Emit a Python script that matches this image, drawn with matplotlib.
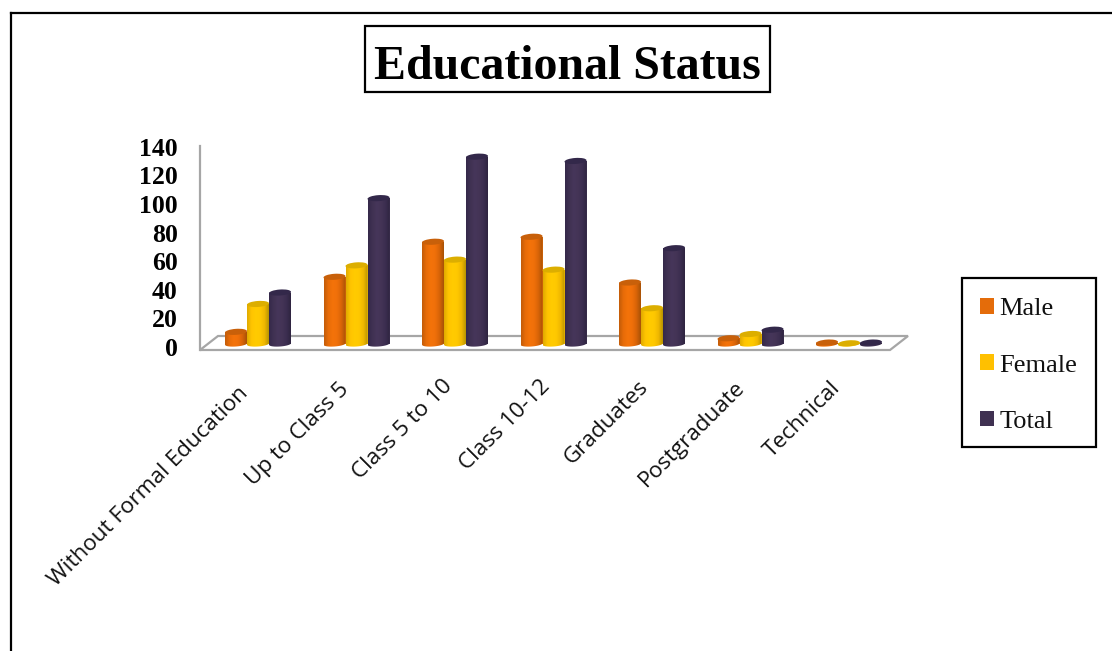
import numpy as np
import matplotlib
matplotlib.use("Agg")
import matplotlib.pyplot as plt
from matplotlib.patches import Ellipse, Patch, Polygon, Rectangle
from matplotlib.lines import Line2D
from matplotlib.transforms import ScaledTranslation
from matplotlib.colors import to_rgb

categories = ["Without Formal Education", "Up to Class 5", "Class 5 to 10",
              "Class 10-12", "Graduates", "Postgraduate", "Technical"]
male = [8.5, 47, 71.5, 75, 43, 4, 1]
female = [28, 55, 59, 52, 25, 7, 0.5]
total = [36, 102, 131, 128, 67, 10, 1]
y_ticks = [0, 20, 40, 60, 80, 100, 120, 140]
series_names = ["Male", "Female", "Total"]

W, H = 1112, 651
fig = plt.figure(figsize=(W / 100, H / 100), dpi=100, facecolor="white")
SERIF = "Liberation Serif"


def fx(p):
    return p / W


def fy(p):
    return 1 - p / H


# outer frame
fig.add_artist(Line2D([fx(11), fx(11)], [0, fy(13)], color="black", lw=1.6))
fig.add_artist(Line2D([fx(11), 1], [fy(13), fy(13)], color="black", lw=1.6))

# title
fig.add_artist(Rectangle((fx(365), fy(92)), fx(405), 66 / H, fc="white", ec="black", lw=1.6,
                         transform=fig.transFigure))
fig.text(fx(567.5), fy(67), "Educational Status", family=SERIF, weight="bold", fontsize=34.5,
         ha="center", va="center", color="black")

# axes: pixel geometry
left, right, top, bottom = 200, 890, 143, 350
ax = fig.add_axes([fx(left), fy(bottom), fx(right - left), (bottom - top) / H])
ax.set_facecolor("none")
px_x = 98.5
px_y = 1.43
x0 = 258
y0 = 344
xlim = ((left - x0) / px_x, (right - x0) / px_x)
ylim = (-(bottom - y0) / px_y, (y0 - top) / px_y)

for s in ("top", "right", "bottom"):
    ax.spines[s].set_visible(False)
ax.spines["left"].set_color("#a6a6a6")
ax.spines["left"].set_linewidth(1.6)

# floor
h_ax = bottom - top
ax.add_patch(Polygon([(0, 0), (18 / (right - left), 14 / h_ax), (708 / (right - left), 14 / h_ax), (1, 0)],
                     closed=True, fc="white", ec="#a6a6a6", lw=1.6, transform=ax.transAxes,
                     clip_on=False, zorder=1))

styles = [
    (male, "#e46c0a", ["#c35c08", "#e86c08", "#f4730a", "#f0700a", "#d86408", "#a85206"], "#c8600a"),
    (female, "#ffc000", ["#e0aa00", "#ffc400", "#ffcb00", "#ffc800", "#f0b800", "#b89400"], "#dcae00"),
    (total, "#3f3151", ["#35294a", "#403252", "#46365a", "#443456", "#3c2e50", "#2e2440"], "#33284a"),
]
offsets = [-22, 0, 22]
bw = 22 / px_x
eh = 5 / px_y
z = 3
x = np.arange(len(categories))
for (vals, col, stops, cap), off in zip(styles, offsets):
    xs = x + off / px_x
    bars = ax.bar(xs, vals, width=bw, color=col, linewidth=0, zorder=z)
    pos = np.linspace(0, 1, len(stops))
    rgb = np.array([to_rgb(c) for c in stops])
    grad = np.stack([np.interp(np.linspace(0, 1, 64), pos, rgb[:, k]) for k in range(3)], axis=1)[None, :, :]
    for cx, v in zip(xs, vals):
        t = np.linspace(-1, 1, 41)
        tilt = 0.07 * t * bw / 2 * px_x / px_y
        yb = -eh / 2 * np.sqrt(1 - t ** 2) + tilt
        pts = [(cx - bw / 2, v)] + list(zip(cx + t * bw / 2, yb)) + [(cx + bw / 2, v)]
        clip = Polygon(pts, closed=True, transform=ax.transData, fc="none", ec="none")
        ax.add_patch(clip)
        im = ax.imshow(grad, extent=(cx - bw / 2, cx + bw / 2, -eh, max(v, 0.01)), aspect="auto",
                       interpolation="bilinear", zorder=z + 0.1)
        im.set_clip_path(clip)
        shift = ScaledTranslation(cx, v, ax.transData)
        ax.add_patch(Ellipse((0, 0), 22, 6, angle=4, fc=cap, ec="none", transform=shift,
                             zorder=z + 0.2, clip_on=False))
    z += 1

ax.set_xticks(x)
ax.set_xticklabels(categories, rotation=45, ha="right", rotation_mode="anchor",
                   family="Open Sans", fontsize=16.2, color="#111111")
ax.set_yticks(y_ticks)
ax.set_yticklabels([str(v) for v in y_ticks], family=SERIF, weight="bold", fontsize=18.5, color="black")
ax.tick_params(axis="both", length=0)
ax.tick_params(axis="y", pad=16)
ax.tick_params(axis="x", pad=20)
dy = ScaledTranslation(0, -3 / 100, fig.dpi_scale_trans)
for lb in ax.get_yticklabels():
    lb.set_transform(lb.get_transform() + dy)
label_dx = [-20, -18, -13, -14, -14, -16, -19]
label_dy = [-5, -1, 2, 2, 1, 1, 0]
for lb, ox, oy in zip(ax.get_xticklabels(), label_dx, label_dy):
    lb.set_transform(lb.get_transform() + ScaledTranslation(ox / 100, oy / 100, fig.dpi_scale_trans))

ax.set_xlim(*xlim)
ax.set_ylim(*ylim)
ax.spines["left"].set_bounds(ylim[0], (y0 - 146) / px_y)

# legend
fig.add_artist(Rectangle((fx(962), fy(447)), 134 / W, 169 / H, fc="white", ec="black", lw=1.6,
                         transform=fig.transFigure))
handles = [Patch(fc=s[1], ec="none", label=n) for s, n in zip(styles, series_names)]
leg = fig.legend(handles=handles, loc="center left", bbox_to_anchor=(fx(980), fy(365.5)),
                 frameon=False, prop={"family": SERIF, "size": 19}, handlelength=0.53, handleheight=0.53,
                 handletextpad=0.2, labelspacing=1.3, borderpad=0, borderaxespad=0)
for t in leg.get_texts():
    t.set_color("#111111")

fig.savefig("out.png", dpi=100)
